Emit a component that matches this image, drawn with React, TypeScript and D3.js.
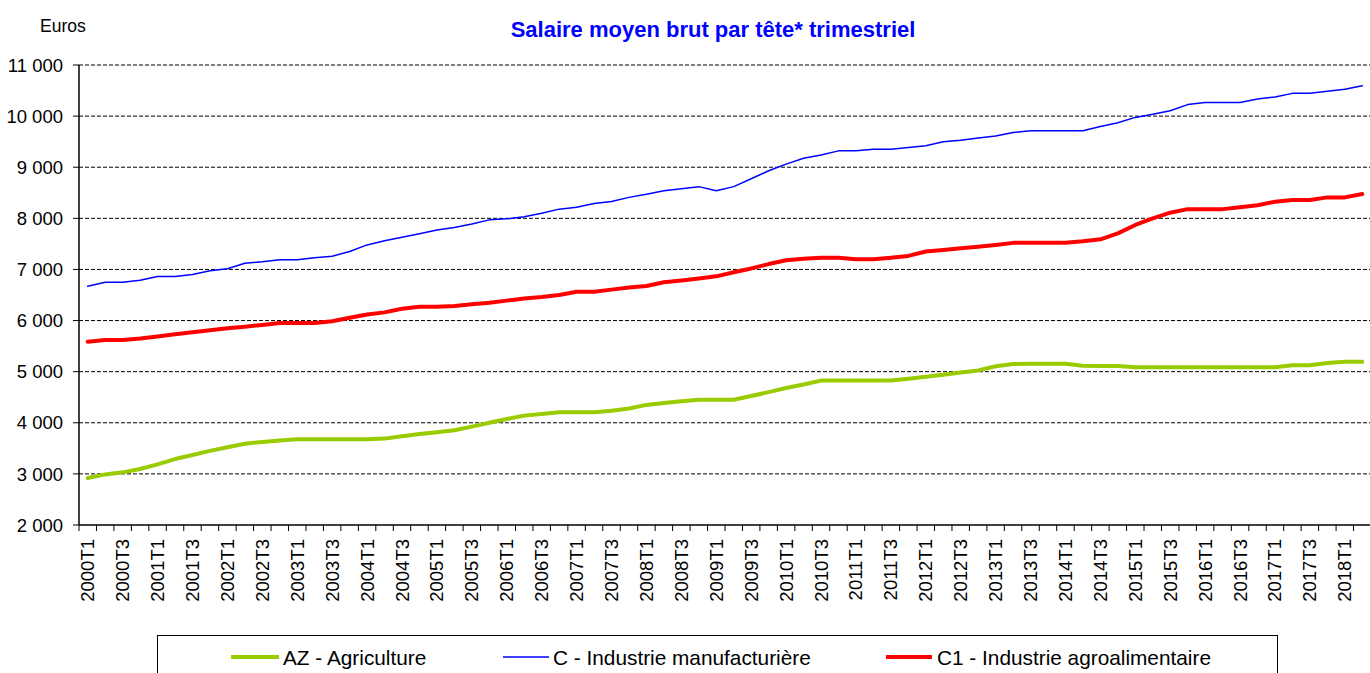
import React from "react";
import * as d3 from "d3";

const quarters: string[] = [
  "2000T1","2000T2","2000T3","2000T4","2001T1","2001T2","2001T3","2001T4",
  "2002T1","2002T2","2002T3","2002T4","2003T1","2003T2","2003T3","2003T4",
  "2004T1","2004T2","2004T3","2004T4","2005T1","2005T2","2005T3","2005T4",
  "2006T1","2006T2","2006T3","2006T4","2007T1","2007T2","2007T3","2007T4",
  "2008T1","2008T2","2008T3","2008T4","2009T1","2009T2","2009T3","2009T4",
  "2010T1","2010T2","2010T3","2010T4","2011T1","2011T2","2011T3","2011T4",
  "2012T1","2012T2","2012T3","2012T4","2013T1","2013T2","2013T3","2013T4",
  "2014T1","2014T2","2014T3","2014T4","2015T1","2015T2","2015T3","2015T4",
  "2016T1","2016T2","2016T3","2016T4","2017T1","2017T2","2017T3","2017T4",
  "2018T1","2018T2",
];

const agriculture: number[] = [
  2920, 2990, 3030, 3095, 3185, 3290, 3370, 3450, 3520, 3590,
  3625, 3655, 3680, 3680, 3680, 3680, 3680, 3690, 3735, 3780,
  3815, 3855, 3925, 4000, 4075, 4140, 4170, 4205, 4205, 4205,
  4235, 4280, 4350, 4385, 4420, 4450, 4450, 4450, 4525, 4600,
  4680, 4750, 4825, 4825, 4825, 4825, 4825, 4860, 4900, 4940,
  4985, 5025, 5105, 5150, 5155, 5155, 5155, 5115, 5110, 5110,
  5085, 5085, 5085, 5085, 5085, 5085, 5085, 5085, 5085, 5125,
  5125, 5170, 5195, 5195,
];

const manufacturing: number[] = [
  6670, 6750, 6750, 6790, 6860, 6860, 6900, 6975, 7015, 7120,
  7150, 7190, 7190, 7230, 7260, 7350, 7480, 7560, 7630, 7700,
  7770, 7820, 7890, 7970, 7990, 8030, 8100, 8180, 8215, 8290,
  8330, 8410, 8470, 8540, 8580, 8620, 8540, 8620, 8775, 8930,
  9060, 9175, 9240, 9320, 9320, 9350, 9350, 9385, 9420, 9500,
  9530, 9570, 9610, 9680, 9715, 9715, 9715, 9715, 9795, 9870,
  9975, 10035, 10105, 10225, 10265, 10265, 10265, 10335, 10375, 10445,
  10445, 10485, 10525, 10595,
];

const agrifood: number[] = [
  5586, 5620, 5620, 5650, 5690, 5730, 5770, 5810, 5850, 5880,
  5915, 5950, 5950, 5950, 5985, 6055, 6120, 6160, 6230, 6270,
  6270, 6285, 6320, 6350, 6390, 6430, 6460, 6500, 6565, 6565,
  6605, 6645, 6675, 6750, 6785, 6825, 6865, 6945, 7020, 7105,
  7180, 7210, 7230, 7230, 7200, 7200, 7230, 7265, 7350, 7380,
  7415, 7445, 7480, 7520, 7520, 7520, 7520, 7550, 7590, 7705,
  7870, 8000, 8110, 8180, 8180, 8180, 8215, 8255, 8325, 8360,
  8360, 8410, 8410, 8475,
];

const yTicks: number[] = [2000, 3000, 4000, 5000, 6000, 7000, 8000, 9000, 10000, 11000];

const seriesNames: string[] = [
  "AZ - Agriculture",
  "C - Industrie manufacturière",
  "C1 - Industrie agroalimentaire",
];

const FONT = "'Liberation Sans', Arial, sans-serif";

export default function App() {
  const W = 1370;
  const H = 673;
  const left = 79;
  const right = 1371;
  const top = 65;
  const bottom = 525;

  const x = d3.scaleBand<string>().domain(quarters).range([left, right]).paddingInner(0).paddingOuter(0);
  const bw = x.bandwidth();
  const cx = (q: string) => (x(q) as number) + bw / 2;
  const y = d3.scaleLinear().domain([2000, 11000]).range([bottom, top]);

  const fmt = (v: number) => {
    const s = String(v);
    return s.length > 3 ? s.slice(0, s.length - 3) + " " + s.slice(s.length - 3) : s;
  };

  const line = d3
    .line<number>()
    .x((_, i) => cx(quarters[i]))
    .y((d) => y(d));

  const series = [
    { name: seriesNames[0], values: agriculture, color: "#99CC00", width: 4 },
    { name: seriesNames[1], values: manufacturing, color: "#0000FF", width: 1.5 },
    { name: seriesNames[2], values: agrifood, color: "#FF0000", width: 4 },
  ];

  const legendItems = [
    { s: series[0], x0: 231, x1: 279, tx: 283 },
    { s: series[1], x0: 503, x1: 549, tx: 553 },
    { s: series[2], x0: 886, x1: 932, tx: 937 },
  ];

  return (
    <svg
      width={W}
      height={H}
      style={{ position: "absolute", left: 0, top: 0, background: "#fff" }}
      fontFamily={FONT}
    >
      <rect x={0} y={0} width={W} height={H} fill="#fff" />
      <text x={713} y={37} textAnchor="middle" fill="#0000FF" fontWeight="bold" fontSize={22}>
        Salaire moyen brut par tête* trimestriel
      </text>
      <text x={40} y={32} fontSize={17.5} fill="#000">
        Euros
      </text>

      {/* grid lines */}
      {yTicks.slice(1).map((t) => (
        <line
          key={"g" + t}
          x1={left}
          x2={W}
          y1={y(t)}
          y2={y(t)}
          stroke="#000"
          strokeWidth={1}
          strokeDasharray="4,2"
        />
      ))}

      {/* y axis */}
      <line x1={left} x2={left} y1={top} y2={bottom} stroke="#000" strokeWidth={1.5} />
      {yTicks.map((t) => (
        <g key={"y" + t}>
          <line x1={left - 6} x2={left} y1={y(t)} y2={y(t)} stroke="#000" strokeWidth={1} />
          <text x={left - 16} y={y(t)} dy="0.36em" textAnchor="end" fontSize={18.5} fill="#000">
            {fmt(t)}
          </text>
        </g>
      ))}

      {/* x axis */}
      <line x1={left} x2={right} y1={bottom} y2={bottom} stroke="#000" strokeWidth={1.5} />
      {quarters.map((q) => (
        <line
          key={"xt" + q}
          x1={x(q) as number}
          x2={x(q) as number}
          y1={bottom}
          y2={bottom + 6}
          stroke="#000"
          strokeWidth={1}
        />
      ))}
      {quarters.map((q, i) =>
        i % 2 === 0 ? (
          <text
            key={"xl" + q}
            transform={`translate(${cx(q) + 6.5},${bottom + 14}) rotate(-90)`}
            textAnchor="end"
            fontSize={18.5}
            fill="#000"
          >
            {q}
          </text>
        ) : null
      )}

      {/* series */}
      {series.map((s) => (
        <path
          key={s.name}
          d={line(s.values) as string}
          fill="none"
          stroke={s.color}
          strokeWidth={s.width}
          strokeLinejoin="round"
          strokeLinecap="round"
        />
      ))}

      {/* legend */}
      <rect x={157.5} y={635.5} width={1120} height={60} fill="#fff" stroke="#000" strokeWidth={1} />
      {legendItems.map((it) => (
        <g key={"lg" + it.s.name}>
          <line
            x1={it.x0}
            x2={it.x1}
            y1={657}
            y2={657}
            stroke={it.s.color}
            strokeWidth={it.s.width}
          />
          <text x={it.tx} y={665} fontSize={20.8} fill="#000">
            {it.s.name}
          </text>
        </g>
      ))}
    </svg>
  );
}
